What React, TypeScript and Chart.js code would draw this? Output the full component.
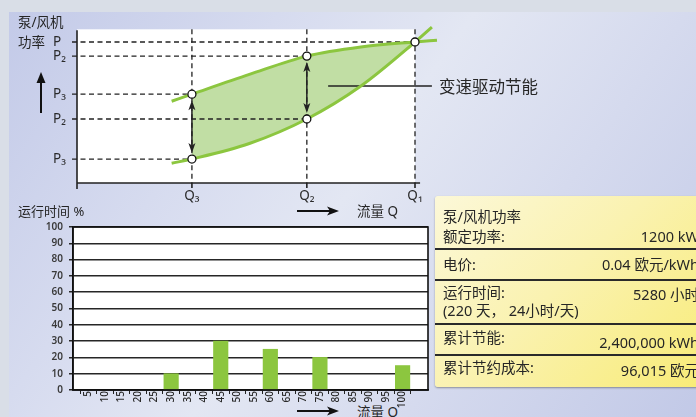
import { useEffect, useRef } from 'react'
import { Chart, registerables } from 'chart.js'

Chart.register(...registerables)

const FONT = "'Noto Sans', 'Noto Sans CJK SC', sans-serif"
const GREEN = '#8cc63f'
const FILL_GREEN = '#c1dea4'
const INK = '#222'

// power vs. flow (flow in % of Q1, power in % of P)
const THROTTLE_CURVE = [
  { x: 28, y: 58 }, { x: 34, y: 63 }, { x: 51, y: 77 }, { x: 68, y: 90 },
  { x: 84, y: 96.5 }, { x: 100, y: 100 }, { x: 106.5, y: 101.2 },
]
const VFD_CURVE = [
  { x: 28, y: 14 }, { x: 34, y: 17 }, { x: 51, y: 28 }, { x: 68, y: 45.4 },
  { x: 84, y: 68.8 }, { x: 100, y: 100 }, { x: 105, y: 110.6 },
]
const FLOW_LEVELS = [34, 68, 100]
const FLOW_LABELS = ['Q₃', 'Q₂', 'Q₁']
const THROTTLE_POWER = [63, 90, 100]
const VFD_POWER = [17, 45.4]
const POWER_LABELS = ['P₃', 'P₂', 'P']
const PLOT_TOP = 109

// running time histogram
const FLOW_STEPS = [5, 10, 15, 20, 25, 30, 35, 40, 45, 50, 55, 60, 65, 70, 75, 80, 85, 90, 95, 100]
const RUNTIME_FLOW = [30, 45, 60, 75, 100]
const RUNTIME_PCT = [10, 30, 25, 20, 15]

// info box
const INFO_LABELS = [['泵/风机功率', '额定功率:'], ['电价:'], ['运行时间:', '(220 天， 24小时/天)'], ['累计节能:'], ['累计节约成本:']]
const INFO_VALUES = ['1200 kW', '0.04 欧元/kWh', '5280 小时', '2,400,000 kWh', '96,015 欧元']
const LABEL_Y = [[217, 237], [265], [293, 311], [338], [368]]
const VALUE_Y = [237, 265, 295, 343, 371]
const SEPARATOR_Y = [248, 279, 323, 354]

function arrowHead(ctx: CanvasRenderingContext2D, x: number, tipY: number, dir: number) {
  // dir = -1 points up, +1 points down
  ctx.beginPath()
  ctx.moveTo(x, tipY)
  ctx.lineTo(x - 3.5, tipY - dir * 10)
  ctx.lineTo(x, tipY - dir * 7.5)
  ctx.lineTo(x + 3.5, tipY - dir * 10)
  ctx.closePath()
  ctx.fill()
}

const powerDecor = {
  id: 'powerDecor',
  beforeDraw(chart: any) {
    const { ctx, scales: { x, y } } = chart
    const left = x.getPixelForValue(0)
    const right = x.getPixelForValue(100)
    const top = y.getPixelForValue(PLOT_TOP)
    const bottom = y.getPixelForValue(0)
    ctx.save()
    ctx.fillStyle = '#fff'
    ctx.fillRect(left, top, right - left, bottom - top)
    ctx.restore()
  },
  beforeDatasetsDraw(chart: any) {
    const { ctx, scales: { x, y } } = chart
    const x0 = x.getPixelForValue(0)
    const y0 = y.getPixelForValue(0)
    const yTop = y.getPixelForValue(PLOT_TOP)
    ctx.save()
    ctx.strokeStyle = INK
    ctx.fillStyle = INK

    // dashed guides
    ctx.lineWidth = 1.3
    ctx.setLineDash([5, 3.5])
    const hLine = (q: number, p: number) => {
      ctx.beginPath()
      ctx.moveTo(x0 - 5, y.getPixelForValue(p))
      ctx.lineTo(x.getPixelForValue(q), y.getPixelForValue(p))
      ctx.stroke()
    }
    FLOW_LEVELS.forEach((q, i) => {
      hLine(q, THROTTLE_POWER[i])
      if (i < VFD_POWER.length) hLine(q, VFD_POWER[i])
      ctx.beginPath()
      ctx.moveTo(x.getPixelForValue(q), yTop)
      ctx.lineTo(x.getPixelForValue(q), y0)
      ctx.stroke()
    })
    ctx.setLineDash([])

    // axes
    ctx.lineWidth = 1.6
    ctx.beginPath()
    ctx.moveTo(x0, yTop + 1)
    ctx.lineTo(x0, y0 + 6)
    ctx.moveTo(x0, y0)
    ctx.lineTo(x.getPixelForValue(101.5), y0)
    FLOW_LEVELS.forEach(q => {
      ctx.moveTo(x.getPixelForValue(q), y0)
      ctx.lineTo(x.getPixelForValue(q), y0 + 5)
    })
    ctx.stroke()

    // double arrows between the two curves
    ctx.lineWidth = 1.5
    VFD_POWER.forEach((p, i) => {
      const px = x.getPixelForValue(FLOW_LEVELS[i])
      const yHi = y.getPixelForValue(THROTTLE_POWER[i]) + 6
      const yLo = y.getPixelForValue(p) - 6
      ctx.beginPath()
      ctx.moveTo(px, yHi + 6)
      ctx.lineTo(px, yLo - 6)
      ctx.stroke()
      arrowHead(ctx, px, yHi, -1)
      arrowHead(ctx, px, yLo, 1)
    })

    // leader to the saving label
    ctx.lineWidth = 1.3
    ctx.beginPath()
    ctx.moveTo(x.getPixelForValue(74.3), y.getPixelForValue(68.8))
    ctx.lineTo(x.getPixelForValue(105), y.getPixelForValue(68.8))
    ctx.stroke()

    // P and Q labels
    ctx.fillStyle = '#2a2a2a'
    ctx.font = `13.5px ${FONT}`
    ctx.textBaseline = 'middle'
    ctx.textAlign = 'left'
    FLOW_LEVELS.forEach((_, i) => {
      ctx.fillText(POWER_LABELS[i], 53, y.getPixelForValue(THROTTLE_POWER[i]))
      if (i < VFD_POWER.length) ctx.fillText(POWER_LABELS[i], 53, y.getPixelForValue(VFD_POWER[i]))
    })
    ctx.textAlign = 'center'
    FLOW_LEVELS.forEach((q, i) => {
      ctx.fillText(FLOW_LABELS[i], x.getPixelForValue(q), y0 + 13)
    })
    ctx.restore()
  },
}

const whiteBox = {
  id: 'whiteBox',
  beforeDraw(chart: any) {
    const { ctx, chartArea: a } = chart
    ctx.save()
    ctx.fillStyle = '#fff'
    ctx.fillRect(a.left, a.top, a.right - a.left, a.bottom - a.top)
    ctx.restore()
  },
  afterDraw(chart: any) {
    const { ctx, chartArea: a } = chart
    ctx.save()
    ctx.strokeStyle = '#111'
    ctx.lineWidth = 1.6
    ctx.strokeRect(a.left, a.top, a.right - a.left, a.bottom - a.top)
    ctx.restore()
  },
}

function Arrow({ x1, x2, y, up }: { x1: number; x2: number; y: number; up?: boolean }) {
  if (up) {
    return (
      <svg style={{ position: 'absolute', left: y - 6, top: x2, overflow: 'visible' }} width={12} height={x1 - x2}>
        <line x1={6} y1={x1 - x2} x2={6} y2={8} stroke="#111" strokeWidth={2} />
        <polygon points={`6,0 1.5,11 10.5,11`} fill="#111" />
      </svg>
    )
  }
  return (
    <svg style={{ position: 'absolute', left: x1, top: y - 6, overflow: 'visible' }} width={x2 - x1} height={12}>
      <line x1={0} y1={6} x2={x2 - x1 - 8} y2={6} stroke="#111" strokeWidth={2} />
      <polygon points={`${x2 - x1},6 ${x2 - x1 - 12},1.5 ${x2 - x1 - 9},6 ${x2 - x1 - 12},10.5`} fill="#111" />
    </svg>
  )
}

function Label({ text, x, y, size = 13.5, right }: { text: string; x: number; y: number; size?: number; right?: boolean }) {
  const style: any = {
    position: 'absolute',
    top: y,
    transform: 'translateY(-50%)',
    fontSize: size,
    lineHeight: 1.2,
    whiteSpace: 'nowrap',
    color: '#262626',
  }
  if (right) style.right = x
  else style.left = x
  return <div style={style}>{text}</div>
}

export default function App() {
  const topRef = useRef<HTMLCanvasElement>(null)
  const bottomRef = useRef<HTMLCanvasElement>(null)

  useEffect(() => {
    if (!topRef.current || !bottomRef.current) return
    const markers = [
      ...FLOW_LEVELS.map((q, i) => ({ x: q, y: THROTTLE_POWER[i] })),
      ...VFD_POWER.map((p, i) => ({ x: FLOW_LEVELS[i], y: p })),
    ]
    const inRange = (c: any) =>
      c.p0.parsed.x >= FLOW_LEVELS[0] && c.p1.parsed.x <= FLOW_LEVELS[FLOW_LEVELS.length - 1]
        ? FILL_GREEN
        : 'rgba(0,0,0,0)'

    const top = new Chart(topRef.current, {
      type: 'line',
      data: {
        datasets: [
          {
            data: THROTTLE_CURVE,
            borderColor: GREEN,
            borderWidth: 3,
            pointRadius: 0,
            cubicInterpolationMode: 'monotone',
            fill: 1,
            backgroundColor: FILL_GREEN,
            segment: { backgroundColor: inRange },
            order: 1,
          },
          {
            data: VFD_CURVE,
            borderColor: GREEN,
            borderWidth: 3,
            pointRadius: 0,
            cubicInterpolationMode: 'monotone',
            fill: false,
            order: 1,
          },
          {
            data: markers,
            showLine: false,
            pointRadius: 4,
            pointBackgroundColor: '#fff',
            pointBorderColor: '#111',
            pointBorderWidth: 1.3,
            fill: false,
            order: 0,
          },
        ],
      } as any,
      options: {
        animation: false,
        responsive: true,
        maintainAspectRatio: false,
        events: [],
        layout: { padding: { left: 77, right: 247.2, top: 20.85, bottom: 47 } },
        plugins: {
          legend: { display: false },
          tooltip: { enabled: false },
          filler: { propagate: false, drawTime: 'beforeDatasetsDraw' },
        },
        scales: {
          x: { type: 'linear', min: 0, max: 110, display: false },
          y: { type: 'linear', min: 0, max: 115, display: false },
        },
      } as any,
      plugins: [powerDecor],
    })

    const bottom = new Chart(bottomRef.current, {
      type: 'bar',
      data: {
        datasets: [
          {
            data: RUNTIME_FLOW.map((f, i) => ({ x: f, y: RUNTIME_PCT[i] })),
            backgroundColor: GREEN,
            barThickness: 14.5,
          },
        ],
      } as any,
      options: {
        animation: false,
        responsive: true,
        maintainAspectRatio: false,
        events: [],
        layout: { padding: { top: 9, right: 12, left: 0, bottom: 0 } },
        plugins: { legend: { display: false }, tooltip: { enabled: false } },
        scales: {
          x: {
            type: 'linear',
            min: 3,
            max: 105,
            afterBuildTicks: (s: any) => {
              s.ticks = FLOW_STEPS.map(v => ({ value: v }))
            },
            afterFit: (s: any) => {
              s.height = 27
            },
            grid: { drawOnChartArea: false, offset: true, color: '#222', tickLength: 4 },
            border: { color: '#111', width: 1.6 },
            ticks: {
              autoSkip: false,
              minRotation: 90,
              maxRotation: 90,
              padding: -3,
              color: '#2a2a2a',
              font: { family: FONT, size: 10, weight: '500' },
            },
          },
          y: {
            min: 0,
            max: 100,
            afterFit: (s: any) => {
              s.width = 73
            },
            grid: { color: '#262626', lineWidth: 1.5, tickLength: 4 },
            border: { color: '#111', width: 1.6 },
            ticks: {
              stepSize: 10,
              padding: 6,
              color: '#3a3a3a',
              font: { family: FONT, size: 10, weight: '600' },
            },
          },
        },
      } as any,
      plugins: [whiteBox],
    })

    return () => {
      top.destroy()
      bottom.destroy()
    }
  }, [])

  return (
    <div
      style={{
        position: 'fixed',
        left: 0,
        top: 0,
        width: 696,
        height: 417,
        overflow: 'hidden',
        background: '#d9dee7',
        fontFamily: FONT,
      }}
    >
      <div
        style={{
          position: 'absolute',
          left: 9,
          top: 12,
          right: 0,
          bottom: 0,
          background:
            'linear-gradient(125deg, #c3cae8 0%, #d6dbef 28%, #e3e7f3 48%, #d5daee 70%, #c2c9e7 100%)',
        }}
      />
      <div style={{ position: 'absolute', left: 0, top: 0, width: 696, height: 230 }}>
        <canvas ref={topRef} />
      </div>

      <Label text="泵/风机" x={18} y={22} />
      <Label text="功率" x={18} y={42} />
      <Label text="变速驱动节能" x={439} y={87} size={16.5} />
      <Label text="流量 Q" x={357} y={211} />
      <Label text="运行时间 %" x={18} y={212} size={13} />
      <Label text="流量 Q" x={357} y={412} />
      <Arrow up x1={113} x2={72} y={41} />
      <Arrow x1={297} x2={339} y={211} />
      <Arrow x1={297} x2={339} y={411} />

      <div style={{ position: 'absolute', left: 0, top: 215, width: 440, height: 202 }}>
        <canvas ref={bottomRef} />
      </div>

      <div
        style={{
          position: 'absolute',
          left: 435,
          top: 196,
          width: 280,
          height: 191,
          borderRadius: 3,
          background: 'linear-gradient(135deg, #fcf8d8 0%, #faf2b0 45%, #f8eb74 100%)',
          boxShadow: '0 1px 2px rgba(0,0,0,0.35)',
        }}
      />
      {SEPARATOR_Y.map(y => (
        <div key={y} style={{ position: 'absolute', left: 435, top: y, width: 270, height: 1.5, background: '#2a2a2a' }} />
      ))}
      {INFO_LABELS.map((lines, i) =>
        lines.map((t, j) => <Label key={`${i}-${j}`} text={t} x={443} y={LABEL_Y[i][j]} size={14.5} />)
      )}
      {INFO_VALUES.map((v, i) => (
        <Label key={v} text={v} x={-3} y={VALUE_Y[i]} size={14.5} right />
      ))}
    </div>
  )
}
